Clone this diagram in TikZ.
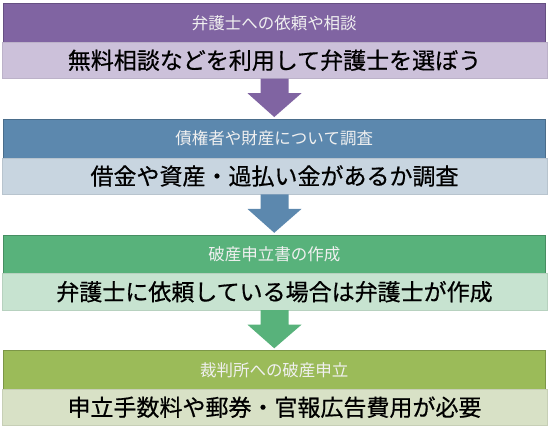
\documentclass[tikz,border=0pt]{standalone}
\usepackage{fontspec}
\newfontfamily\jpfont{Noto Sans CJK JP}
\newfontfamily\jpboldfont[FakeBold=0.6]{Noto Sans CJK JP}
\usepackage{tikz}
\usetikzlibrary{calc}
\usepackage{xcolor}
\definecolor{purplehead}{HTML}{8064A2}
\definecolor{purplebody}{HTML}{CCC1DA}
\definecolor{bluehead}{HTML}{5C88AE}
\definecolor{bluebody}{HTML}{C8D5E0}
\definecolor{greenhead}{HTML}{58B27B}
\definecolor{greenbody}{HTML}{C7E3D0}
\definecolor{olivehead}{HTML}{9BBB59}
\definecolor{olivebody}{HTML}{D8E1C6}

\begin{document}
\begin{tikzpicture}[
            x=1pt, y=-1pt,
            stephead/.style={rectangle, inner sep=0pt, minimum width=541.5pt, minimum height=38.5pt,
                text=white!94!black, font=\jpfont\fontsize{16.5}{18}\selectfont},
            stepbody/.style={rectangle, inner sep=0pt, minimum width=545pt, minimum height=36.5pt,
                text=black, font=\jpboldfont\fontsize{23}{26}\selectfont},
        ]
            \useasboundingbox (0,0) rectangle (550,429);

            \node [stephead, fill=purplehead, draw=purplehead!80!black] (head1) at (274.25,22.75) {弁護士への依頼や相談};
            \node [stepbody, fill=purplebody, draw=purplebody!92!black] (body1) at (274.5,60.25) {無料相談などを利用して弁護士を選ぼう};

            \node [stephead, fill=bluehead, draw=bluehead!80!black] (head2) at (274.25,138.5) {債権者や財産について調査};
            \node [stepbody, fill=bluebody, draw=bluebody!92!black] (body2) at (274.5,176) {借金や資産・過払い金があるか調査};

            \node [stephead, fill=greenhead, draw=greenhead!80!black] (head3) at (274.25,254.25) {破産申立書の作成};
            \node [stepbody, fill=greenbody, draw=greenbody!92!black] (body3) at (274.5,291.75) {弁護士に依頼している場合は弁護士が作成};

            \node [stephead, fill=olivehead, draw=olivehead!80!black] (head4) at (274.25,369.75) {裁判所への破産申立};
            \node [stepbody, fill=olivebody, draw=olivebody!92!black] (body4) at (274.5,407.25) {申立手数料や郵券・官報広告費用が必要};

            \fill [purplehead] ($(body1.south)+(-14,0)$) -- ($(body1.south)+(14,0)$) -- ($(body1.south)+(14,14.5)$)
                -- ($(body1.south)+(27,14.5)$) -- ($(head2.north)+(0,-2)$) -- ($(body1.south)+(-27,14.5)$)
                -- ($(body1.south)+(-14,14.5)$) -- cycle;
            \fill [bluehead] ($(body2.south)+(-14,0)$) -- ($(body2.south)+(14,0)$) -- ($(body2.south)+(14,14.5)$)
                -- ($(body2.south)+(27,14.5)$) -- ($(head3.north)+(0,-2)$) -- ($(body2.south)+(-27,14.5)$)
                -- ($(body2.south)+(-14,14.5)$) -- cycle;
            \fill [greenhead] ($(body3.south)+(-14,0)$) -- ($(body3.south)+(14,0)$) -- ($(body3.south)+(14,14.5)$)
                -- ($(body3.south)+(27,14.5)$) -- ($(head4.north)+(0,-2)$) -- ($(body3.south)+(-27,14.5)$)
                -- ($(body3.south)+(-14,14.5)$) -- cycle;
        \end{tikzpicture}
\end{document}
